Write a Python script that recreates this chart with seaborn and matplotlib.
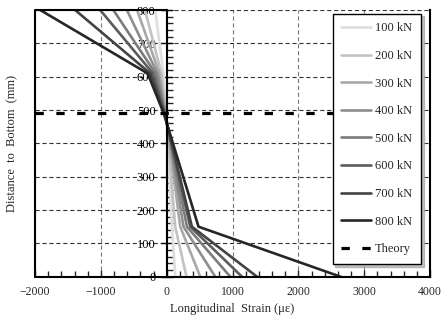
import numpy as np
import pandas as pd
import matplotlib
matplotlib.use("Agg")
import matplotlib.pyplot as plt
import seaborn as sns

# Measured strain profiles over the section depth
loads = ["100 kN", "200 kN", "300 kN", "400 kN", "500 kN", "600 kN", "700 kN", "800 kN"]
heights = [0, 150, 490, 610, 800]  # mm from bottom
strain_100 = [130, 79, -5, -50, -175]
strain_200 = [300, 129, -10, -80, -330]
strain_300 = [509, 205, -15, -110, -450]
strain_400 = [737, 255, -20, -140, -605]
strain_500 = [965, 307, -25, -170, -810]
strain_600 = [1143, 357, -30, -210, -1010]
strain_700 = [1371, 383, -35, -250, -1390]
strain_800 = [2640, 483, -45, -290, -1920]
theory_height = 490  # neutral axis

colors = ["#dedede", "#c2c2c2", "#a8a8a8", "#8e8e8e", "#7c7c7c", "#5c5c5c", "#444444", "#262626"]

series = [strain_100, strain_200, strain_300, strain_400,
          strain_500, strain_600, strain_700, strain_800]
frames = []
for load, strains in zip(loads, series):
    frames.append(pd.DataFrame({"load": load, "height": heights, "strain": strains}))
df = pd.concat(frames, ignore_index=True)

sns.set_style("ticks")
plt.rcParams["font.family"] = ["Liberation Serif", "DejaVu Serif"]
plt.rcParams["lines.scale_dashes"] = False

fig = plt.figure(figsize=(4.47, 3.24), dpi=100)
ax = fig.add_axes([0.0783, 0.146, 0.884, 0.823])

ax.set_xlim(-2000, 4000)
ax.set_ylim(0, 800)
ax.set_xticks([-2000, -1000, 0, 1000, 2000, 3000, 4000])
ax.set_yticks([0, 100, 200, 300, 400, 500, 600, 700, 800])
ax.set_xticks(np.arange(-2000, 4001, 200), minor=True)
ax.set_yticks(np.arange(0, 801, 20), minor=True)
ax.set_axisbelow(True)
ax.grid(True, which="major", axis="y", color="#333333", linestyle=(0, (3, 2)), linewidth=0.8)
ax.grid(True, which="major", axis="x", color="#777777", linestyle=(0, (3, 2)), linewidth=0.8)

sns.lineplot(data=df, x="strain", y="height", hue="load", hue_order=loads,
             palette=colors, sort=False, estimator=None, linewidth=1.9,
             ax=ax, legend=True)

ax.axhline(theory_height, color="black", linewidth=2.3, linestyle=(0, (6, 9)),
           label="Theory", zorder=3)

# frame: y axis drawn through zero strain, outer border around the plot
ax.spines["left"].set_position(("data", 0))
ax.spines["top"].set_visible(False)
for s in ["left", "bottom", "right"]:
    ax.spines[s].set_linewidth(1.5)
    ax.spines[s].set_color("black")
ax.axvline(-2000, color="black", linewidth=1.5, clip_on=False, zorder=4)
ax.hlines(800, -2000, 0, color="black", linewidth=1.5, clip_on=False, zorder=4)

ax.tick_params(axis="y", which="major", direction="inout", length=8, width=1.0,
               labelsize=9, pad=4, colors="black")
ax.tick_params(axis="y", which="minor", direction="in", length=4, width=1.0)
ax.tick_params(axis="x", which="major", direction="in", length=5, width=1.0,
               labelsize=8.5, pad=7)
ax.tick_params(axis="x", which="minor", direction="in", length=4, width=1.0)
ax.xaxis.set_ticks_position("bottom")
ax.yaxis.set_ticks_position("left")
for lbl in ax.get_yticklabels():
    lbl.set_zorder(5)

ax.set_xlabel("Longitudinal  Strain (\u03bc\u03b5)", fontsize=9, labelpad=3)
ax.set_ylabel("")
fig.text(0.027, 0.557, "Distance  to  Bottom  (mm)", rotation=90, fontsize=9,
         ha="center", va="center")

handles, labels = ax.get_legend_handles_labels()
leg = ax.legend(handles, labels, loc="upper right", bbox_to_anchor=(0.977, 0.987),
                fontsize=9, frameon=True, fancybox=False,
                shadow={"color": "#9a9a9a", "alpha": 0.6},
                handlelength=2.4, labelspacing=1.25, borderpad=0.7,
                handletextpad=0.3, borderaxespad=0)
leg.get_frame().set_edgecolor("black")
leg.get_frame().set_linewidth(1.0)
leg.set_zorder(6)

fig.savefig("out.png", dpi=100)
